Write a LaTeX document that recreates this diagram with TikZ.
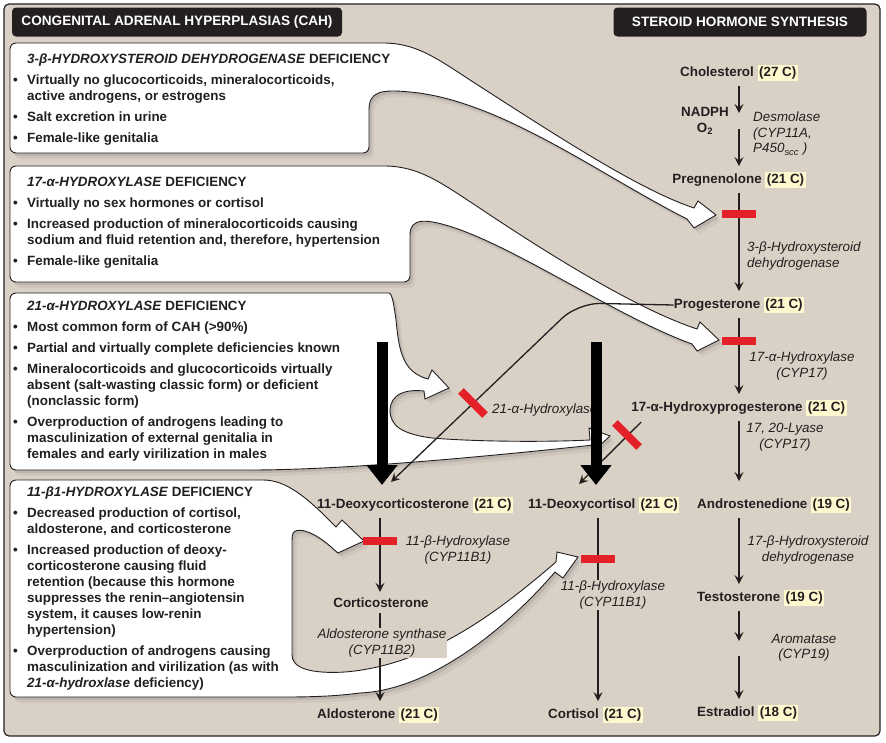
\documentclass[tikz,border=0pt]{standalone}
\usepackage{fontspec}
\setmainfont{Liberation Sans}
\usetikzlibrary{arrows.meta,shadows}

\definecolor{panelbg}{RGB}{218,209,198}
\definecolor{blockred}{RGB}{228,32,40}
\definecolor{hlcream}{RGB}{255,247,205}
\definecolor{inkgray}{RGB}{35,31,32}

\newcommand{\bul}{\makebox[15pt][l]{\hspace*{1pt}\textbullet}}
\newcommand{\ind}{\hspace*{15pt}}
\newcommand{\cnum}[1]{{\setlength{\fboxsep}{1.5pt}\colorbox{hlcream}{#1}}}

\tikzset{
  callout/.style={fill=white, draw=inkgray, line width=0.9pt,
    drop shadow={shadow xshift=5pt, shadow yshift=-6pt, opacity=0.12},
    drop shadow={shadow xshift=2.5pt, shadow yshift=-3pt, opacity=0.25}},
  boxtext/.style={anchor=north west, inner sep=0pt, align=left,
    font=\fontsize{13.4}{16}\selectfont\bfseries, text=inkgray},
  cmpd/.style={inner xsep=0pt, inner ysep=2pt,
    font=\fontsize{13.4}{16}\selectfont\bfseries, text=inkgray},
  enz/.style={inner sep=0pt, font=\fontsize{13.4}{15.5}\selectfont\itshape, text=inkgray},
  pathway/.style={draw=inkgray, line width=1.3pt, shorten <=3pt, shorten >=4pt,
    -{Stealth[length=9pt,width=9pt,inset=3.5pt]}},
  redblock/.style={fill=blockred, minimum width=34pt, minimum height=8pt, inner sep=0pt},
  bigarrow/.style={line width=11pt, -{Triangle[length=20pt,width=30pt]}},
  titlebox/.style={fill=inkgray, rounded corners=4pt, text=white,
    font=\fontsize{13.6}{16}\selectfont\bfseries, minimum height=29pt, inner sep=0pt}
}

\begin{document}
\begin{tikzpicture}[x=1pt,y=-1pt]
\useasboundingbox (0,0) rectangle (886,742);
\fill[white] (0,0) rectangle (886,742);

% panel
\path[fill=panelbg, draw=inkgray, line width=1.2pt, rounded corners=5pt] (4,4) rectangle (880,736);

% headings
\node[titlebox, minimum width=330pt] (cahtitle) at (177,22) {CONGENITAL ADRENAL HYPERPLASIAS (CAH)};
\node[titlebox, minimum width=253pt] (syntitle) at (740,22) {STEROID HORMONE SYNTHESIS};

% callout: 3-beta
\path[callout] (369,110) [rounded corners=6pt] -- (369,153) -- (10,153) -- (10,43) -- (377,43) [sharp corners]
  .. controls (415,43) and (435,57) .. (470,80)
  .. controls (560,138) and (640,190) .. (694,208)
  -- (698,201) -- (716,215) -- (694,228) -- (687,219)
  .. controls (600,175) and (500,100) .. (410,92)
  .. controls (380,89) and (369,92) .. (369,110) -- cycle;

% callout: 17-alpha
\path[callout] (410,235) [rounded corners=6pt] -- (410,282) -- (10,282) -- (10,166) -- (378,166) [sharp corners]
  .. controls (418,166) and (440,182) .. (475,205)
  .. controls (560,262) and (640,310) .. (697,329)
  -- (700,322) -- (719,340) -- (697,351) -- (692,344)
  .. controls (620,318) and (520,250) .. (455,228)
  .. controls (425,218) and (410,218) .. (410,235) -- cycle;

% callout: 21-alpha
\path[callout] (200,470) [rounded corners=6pt] -- (10,470) -- (10,293) -- (383,293) [sharp corners]
  .. controls (392,293) and (394,305) .. (396,320)
  .. controls (399,350) and (402,372) .. (428,379)
  -- (432,370) -- (449,388) -- (425,399) -- (424,391)
  .. controls (405,389) and (391,394) .. (390,410)
  .. controls (390,426) and (402,434) .. (432,438)
  .. controls (480,442) and (550,442) .. (590,440)
  -- (589,428) -- (610,436) -- (597,448) -- (594,445)
  .. controls (500,455) and (350,470) .. (250,470) -- cycle;

% callout: 11-beta
\path[callout] (200,697) [rounded corners=6pt] -- (10,697) -- (10,480) -- (257,480) [sharp corners]
  .. controls (285,480) and (305,495) .. (336,527)
  -- (342,520) -- (364,541) -- (338,553) -- (330,546)
  .. controls (315,533) and (300,527) .. (294,532)
  .. controls (292,534) and (292,538) .. (292,545) -- (292,655)
  .. controls (292,668) and (310,674) .. (345,672)
  .. controls (430,665) and (500,610) .. (556,562)
  -- (557,552) -- (578,557) -- (563,578) -- (555,572)
  .. controls (505,630) and (430,690) .. (360,693)
  .. controls (330,697) and (300,697) .. (280,697) -- cycle;

% callout texts
\node[boxtext] (hsdtext) at (12,54) {\ind\textit{3-β-HYDROXYSTEROID DEHYDROGENASE} DEFICIENCY\\[5pt]
  \bul Virtually no glucocorticoids, mineralocorticoids,\\
  \ind active androgens, or estrogens\\[5pt]
  \bul Salt excretion in urine\\[5pt]
  \bul Female-like genitalia};
\node[boxtext] (oh17text) at (12,177) {\ind\textit{17-α-HYDROXYLASE} DEFICIENCY\\[5pt]
  \bul Virtually no sex hormones or cortisol\\[5pt]
  \bul Increased production of mineralocorticoids causing\\
  \ind sodium and fluid retention and, therefore, hypertension\\[5pt]
  \bul Female-like genitalia};
\node[boxtext] (oh21text) at (12,301) {\ind\textit{21-α-HYDROXYLASE} DEFICIENCY\\[5pt]
  \bul Most common form of CAH (>90\%)\\[5pt]
  \bul Partial and virtually complete deficiencies known\\[5pt]
  \bul Mineralocorticoids and glucocorticoids virtually\\
  \ind absent (salt-wasting classic form) or deficient\\
  \ind (nonclassic form)\\[5pt]
  \bul Overproduction of androgens leading to\\
  \ind masculinization of external genitalia in\\
  \ind females and early virilization in males};
\node[boxtext] (oh11text) at (12,487) {\ind\textit{11-β1-HYDROXYLASE} DEFICIENCY\\[5pt]
  \bul Decreased production of cortisol,\\
  \ind aldosterone, and corticosterone\\[5pt]
  \bul Increased production of deoxy-\\
  \ind corticosterone causing fluid\\
  \ind retention (because this hormone\\
  \ind suppresses the renin–angiotensin\\
  \ind system, it causes low-renin\\
  \ind hypertension)\\[5pt]
  \bul Overproduction of androgens causing\\
  \ind masculinization and virilization (as with\\
  \ind\textit{21-α-hydroxlase} deficiency)};

% compounds
\node[cmpd] (chol) at (739,73) {Cholesterol \cnum{(27 C)}};
\node[cmpd] (preg) at (739,180) {Pregnenolone \cnum{(21 C)}};
\node[cmpd] (prog) at (739,305) {Progesterone \cnum{(21 C)}};
\node[cmpd] (ohprog) at (739,408) {17-α-Hydroxyprogesterone \cnum{(21 C)}};
\node[cmpd, anchor=west] (andro) at (697,505) {Androstenedione \cnum{(19 C)}};
\node[cmpd, anchor=west] (testo) at (697,598) {Testosterone \cnum{(19 C)}};
\node[cmpd, anchor=west] (estra) at (697,713) {Estradiol \cnum{(18 C)}};
\node[cmpd, anchor=west] (doc) at (317,505) {11-Deoxycorticosterone \cnum{(21 C)}};
\node[cmpd, anchor=west] (deoxyc) at (528,505) {11-Deoxycortisol \cnum{(21 C)}};
\node[cmpd] (corticost) at (381,603) {Corticosterone};
\node[cmpd, anchor=west] (aldo) at (317,715) {Aldosterone \cnum{(21 C)}};
\node[cmpd, anchor=west] (cortisol) at (548,715) {Cortisol \cnum{(21 C)}};

% columns
\coordinate (colL) at (380,0);
\coordinate (colM) at (598,0);
\coordinate (colR) at (739,0);
\coordinate (desm) at (739,121);
\coordinate (arom) at (739,649);
\coordinate (hydbend) at (578,303);
\coordinate (docin) at (391,482);
\coordinate (dcin) at (579,484);

% main pathway
\draw[pathway] (chol.south -| colR) -- ([yshift=4pt]desm);
\draw[pathway] ([yshift=-5pt]desm) -- (preg.north -| colR);
\draw[pathway] (preg.south -| colR) -- (prog.north -| colR);
\draw[pathway] (prog.south -| colR) -- (ohprog.north -| colR);
\draw[pathway, shorten >=14pt] (ohprog.south -| colR) -- (andro.north -| colR);
\draw[pathway] (andro.south -| colR) -- (testo.north -| colR);
\draw[pathway] (testo.south -| colR) -- ([yshift=4pt]arom);
\draw[pathway] ([yshift=-4pt]arom) -- (estra.north -| colR);
\draw[pathway] (doc.south -| colL) -- (corticost.north -| colL);
\draw[pathway] (corticost.south -| colL) -- (aldo.north -| colL);
\draw[pathway] (deoxyc.south -| colM) -- (cortisol.north -| colM);

% 21-hydroxylase branches
\draw[pathway, shorten <=0pt, shorten >=0pt, rounded corners=22pt] (prog.west) -- (hydbend) -- (docin);
\draw[pathway, shorten <=0pt, shorten >=0pt] ([xshift=10pt, yshift=-14pt]ohprog.west) -- (dcin);

% enzymes
\node[cmpd, align=center, inner sep=0pt] (cofact) at (705,121) {NADPH\\O\textsubscript{2}};
\node[enz, anchor=north west, align=left] (desmlbl) at (753,112) {Desmolase\\(CYP11A,\\P450\textsubscript{scc} )};
\node[enz, anchor=west, align=left] (hsdlbl) at (747,256) {3-β-Hydroxysteroid\\dehydrogenase};
\node[enz, align=center] (oh17lbl) at (802,366) {17-α-Hydroxylase\\(CYP17)};
\node[enz, align=center] (lyaselbl) at (785,437) {17, 20-Lyase\\(CYP17)};
\node[enz, align=center] (hsd17lbl) at (808,550) {17-β-Hydroxysteroid\\dehydrogenase};
\node[enz, align=center] (aromlbl) at (804,648) {Aromatase\\(CYP19)};
\node[enz, align=center] (oh11albl) at (458,550) {11-β-Hydroxylase\\(CYP11B1)};
\node[enz, align=center, fill=panelbg, inner sep=1pt] (oh11blbl) at (613,595) {11-β-Hydroxylase\\(CYP11B1)};
\node[enz, align=center, fill=panelbg, inner sep=1pt] (aldslbl) at (382,643) {Aldosterone synthase\\(CYP11B2)};
\node[enz, anchor=west] (oh21lbl) at (492,410) {21-α-Hydroxylase};

% blocks
\node[redblock] (blkhsd) at (739,214) {};
\node[redblock] (blkoh17) at (739,341) {};
\node[redblock, rotate=-45] (blkoh21a) at (473,403) {};
\node[redblock, rotate=-45] (blkoh21b) at (627,435) {};
\node[redblock] (blkoh11a) at (380,541) {};
\node[redblock] (blkoh11b) at (598,559) {};

% thick arrows
\coordinate (bigLtop) at (382,342);
\coordinate (bigLend) at (382,485);
\coordinate (bigMtop) at (596,342);
\coordinate (bigMend) at (596,485);
\draw[bigarrow] (bigLtop) -- (bigLend);
\draw[bigarrow] (bigMtop) -- (bigMend);
\end{tikzpicture}
\end{document}
